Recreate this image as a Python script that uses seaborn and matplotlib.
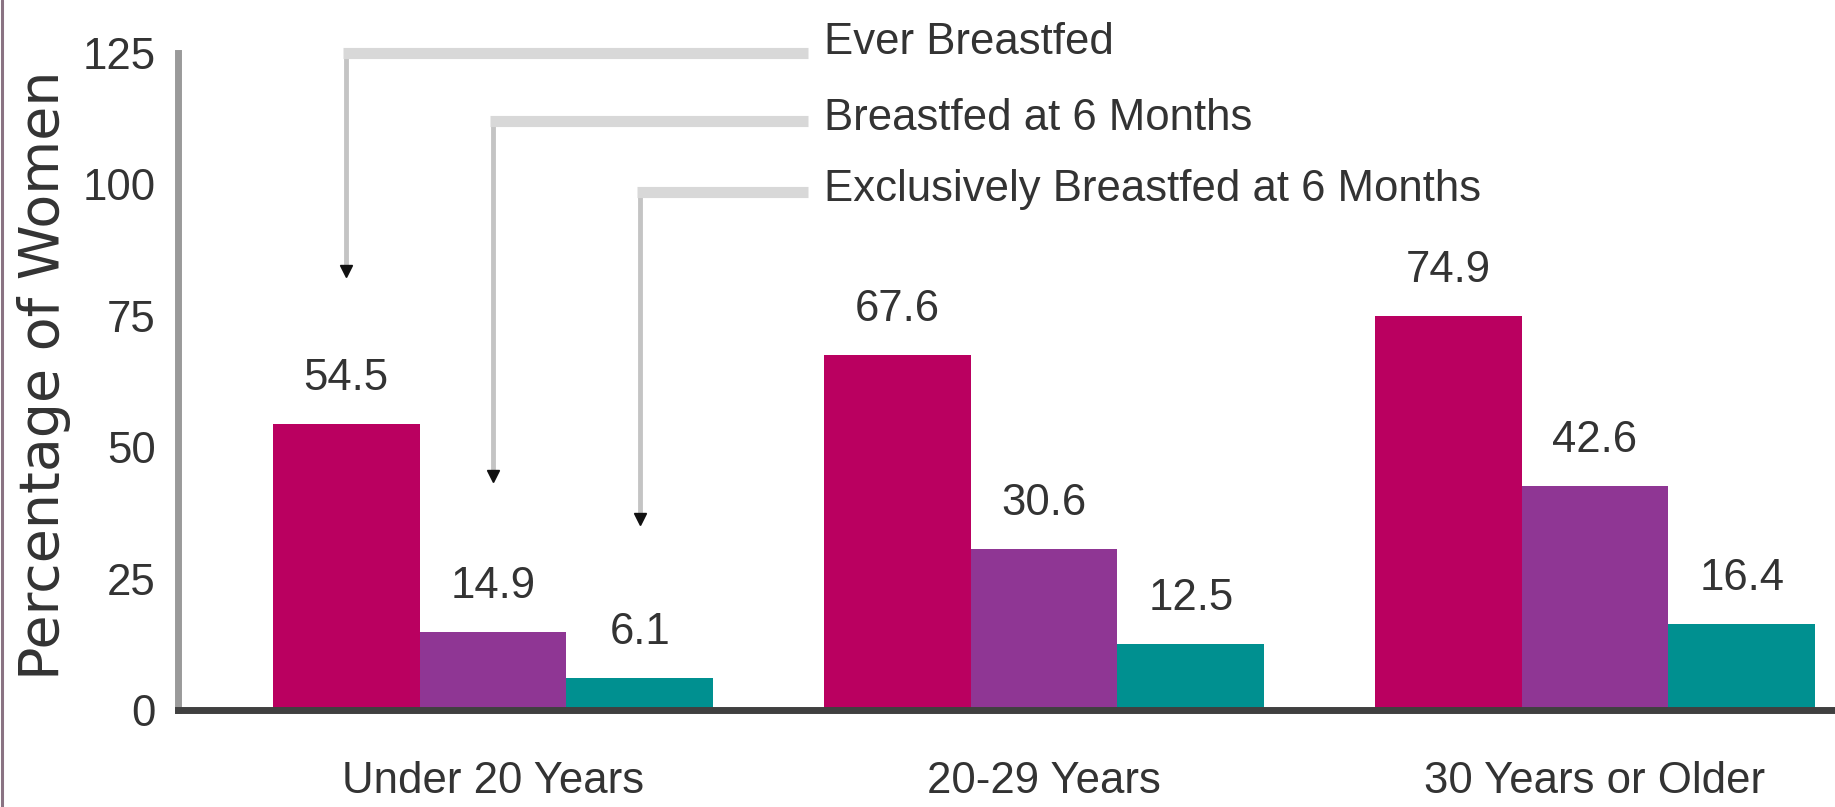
import matplotlib
matplotlib.use('Agg')
import matplotlib.pyplot as plt
from matplotlib.lines import Line2D
import seaborn as sns
import pandas as pd

# ---- data ----
AGE_GROUPS = ['Under 20 Years', '20-29 Years', '30 Years or Older']
MEASURES = ['Ever Breastfed', 'Breastfed at 6 Months', 'Exclusively Breastfed at 6 Months']
EVER = [54.5, 67.6, 74.9]
AT_6_MONTHS = [14.9, 30.6, 42.6]
EXCLUSIVE_6_MONTHS = [6.1, 12.5, 16.4]
Y_TICKS = [0, 25, 50, 75, 100, 125]

# ---- style ----
COLORS = ['#BA0060', '#8F3694', '#009090']
TEXT = '#333333'
NARROW = ['Liberation Sans Narrow', 'Liberation Sans', 'DejaVu Sans']
FS = 31.5

# callout layout: (y of horizontal rule, y of arrow head) in data units
CALLOUTS = [(125, 83.5), (112, 44.5), (98.5, 36.3)]
CALLOUT_TEXT_X = 0.6

rows = []
for measure, vals in zip(MEASURES, [EVER, AT_6_MONTHS, EXCLUSIVE_6_MONTHS]):
    for age, v in zip(AGE_GROUPS, vals):
        rows.append({'age': age, 'measure': measure, 'pct': v})
df = pd.DataFrame(rows)

sns.set_style('white')
plt.rcParams['font.family'] = NARROW

W, H = 1835, 807
fig = plt.figure(figsize=(W / 100, H / 100), dpi=100)
ax = fig.add_axes([178 / W, 97 / H, 1657 / W, 657 / H])

sns.barplot(data=df, x='age', y='pct', hue='measure', order=AGE_GROUPS,
            hue_order=MEASURES, palette=COLORS, saturation=1, errorbar=None,
            legend=False, linewidth=0, ax=ax)

ax.set_xlim(-0.5717, 2.4356)
ax.set_ylim(0, 125)
ax.set_yticks(Y_TICKS)
ax.set_xlabel('')
ax.set_ylabel('Percentage of Women', fontsize=40, family='DejaVu Sans', color=TEXT)
ax.yaxis.set_label_coords(-0.0645, 0.51)

ax.tick_params(axis='y', direction='in', length=21.6, width=3.6, color='#8a8a8a',
               pad=16, labelsize=FS, labelcolor=TEXT)
ax.tick_params(axis='x', length=0, pad=37, labelsize=FS, labelcolor=TEXT)
for lab in ax.get_xticklabels() + ax.get_yticklabels():
    lab.set_fontfamily(NARROW)

for side in ['top', 'right']:
    ax.spines[side].set_visible(False)
ax.spines['left'].set_color('#9a9a9a')
ax.spines['left'].set_linewidth(5)
ax.spines['bottom'].set_color('#404040')
ax.spines['bottom'].set_linewidth(5)
ax.spines['bottom'].set_zorder(5)

# value labels
for c in ax.containers:
    ax.bar_label(c, fmt='%.1f', padding=18, fontsize=FS, color=TEXT, family=NARROW)

# callouts acting as legend
for i, (c, (y_rule, y_head)) in enumerate(zip(ax.containers, CALLOUTS)):
    bar = c.patches[0]
    x = bar.get_x() + bar.get_width() / 2
    ax.plot([x, x], [y_rule, y_head], color='#c4c4c4', lw=3.5,
            solid_capstyle='butt', clip_on=False, zorder=3)
    ax.plot([x - 0.005, CALLOUT_TEXT_X - 0.028], [y_rule, y_rule], color='#d8d8d8',
            lw=8, solid_capstyle='butt', clip_on=False, zorder=3)
    ax.plot([x], [y_head], marker='v', ms=9, color='#111111', clip_on=False, zorder=4)
    ty = y_rule + (2 if i == 0 else 0.5)
    ax.text(CALLOUT_TEXT_X, ty, MEASURES[i], ha='left', va='center', fontsize=FS,
            color=TEXT, family=NARROW, clip_on=False)

# thin frame remnant on the left edge
fig.add_artist(Line2D([0.0009, 0.0009], [0, 1], transform=fig.transFigure,
                      color='#8a7383', lw=2.2))

fig.savefig('out.png', dpi=100)
